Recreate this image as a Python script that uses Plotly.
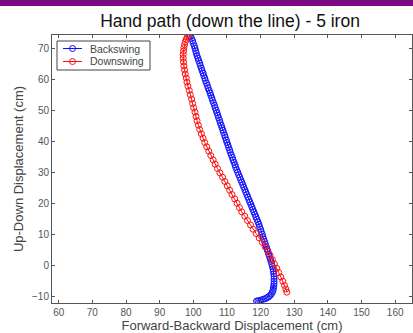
import plotly.graph_objects as go

# Backswing (blue) hand path
back_x = [118.8, 119.2, 119.7, 120.2, 120.8, 121.4, 121.9, 122.4, 122.8, 123.2, 123.5, 123.7,
          123.8, 123.9, 124.0, 124.0, 124.0, 124.0, 123.9, 123.8, 123.7, 123.5, 123.3,
          123.1, 122.9, 122.6, 122.4, 122.2, 121.9, 121.7, 121.4, 121.2, 120.9, 120.7, 120.5,
          120.2, 120.0, 119.7, 119.5, 119.2, 118.9, 118.6, 118.3, 118.0, 117.7, 117.4, 117.1,
          116.8, 116.5, 116.2, 115.9, 115.6, 115.3, 115.0, 114.7, 114.4, 114.1, 113.8, 113.5,
          113.2, 112.9, 112.6, 112.4, 112.1, 111.8, 111.6, 111.3, 111.0, 110.8, 110.5, 110.3,
          110.0, 109.8, 109.5, 109.3, 109.0, 108.8, 108.5, 108.3, 108.0, 107.8, 107.5, 107.3,
          107.0, 106.8, 106.5, 106.3, 106.0, 105.7, 105.5, 105.2, 105.0, 104.7, 104.4, 104.2,
          103.9, 103.6, 103.4, 103.1, 102.9, 102.6, 102.4, 102.1, 101.9, 101.6, 101.4, 101.1,
          100.9, 100.7, 100.5, 100.3, 100.0, 99.8, 99.5, 99.1, 98.8]
back_y = [-11.4, -11.3, -11.2, -11.0, -10.8, -10.6, -10.3, -10.0, -9.6, -9.1, -8.5, -7.9,
          -7.2, -6.5, -5.8, -5.0, -4.2, -3.4, -2.6, -1.8, -1.0, -0.2, 0.6,
          1.4, 2.2, 3.0, 3.8, 4.6, 5.4, 6.2, 7.0, 7.8, 8.6, 9.4, 10.2,
          11.0, 11.8, 12.6, 13.4, 14.2, 15.0, 15.8, 16.6, 17.4, 18.2, 19.0, 19.8,
          20.6, 21.4, 22.2, 23.0, 23.8, 24.6, 25.4, 26.2, 27.0, 27.8, 28.6, 29.4,
          30.2, 31.0, 31.8, 32.6, 33.4, 34.2, 35.0, 35.8, 36.6, 37.4, 38.2, 39.0,
          39.8, 40.6, 41.4, 42.2, 43.0, 43.8, 44.6, 45.4, 46.2, 47.0, 47.8, 48.6,
          49.4, 50.2, 51.0, 51.8, 52.6, 53.4, 54.2, 55.0, 55.8, 56.6, 57.4, 58.2,
          59.0, 59.8, 60.6, 61.4, 62.2, 63.0, 63.8, 64.6, 65.4, 66.2, 67.0, 67.8,
          68.6, 69.4, 70.2, 71.0, 71.8, 72.6, 73.4, 74.0, 74.3]

# Downswing (red) hand path
down_x = [98.6, 98.2, 97.9, 97.6, 97.4, 97.2, 97.1, 97.0, 97.0, 97.1, 97.2, 97.4, 97.6, 97.9,
          98.1, 98.4, 98.8, 99.1, 99.5, 99.8, 100.1, 100.5, 100.8, 101.1, 101.5, 101.9,
          102.4, 102.9, 103.4, 104.0, 104.6, 105.2, 105.9, 106.5, 107.2, 107.9, 108.7,
          109.4, 110.1, 110.8, 111.5, 112.3, 113.0, 113.7, 114.4, 115.3, 116.1, 117.0,
          117.8, 118.7, 119.6, 120.5, 121.3, 122.1, 122.8, 123.5, 124.1, 124.8, 125.4,
          126.0, 126.6, 127.1, 127.5, 127.8]
down_y = [74.3, 73.8, 73.1, 72.3, 71.4, 70.4, 69.3, 68.2, 67.0, 65.8, 64.5, 63.2, 61.9, 60.6,
          59.3, 58.0, 56.6, 55.2, 53.8, 52.4, 51.0, 49.6, 48.2, 46.8, 45.4, 44.0,
          42.6, 41.2, 39.8, 38.4, 37.0, 35.6, 34.2, 32.8, 31.4, 30.0, 28.6,
          27.2, 25.8, 24.4, 23.0, 21.6, 20.2, 18.8, 17.4, 16.0, 14.6, 13.2,
          11.8, 10.4, 9.0, 7.6, 6.2, 4.8, 3.4, 2.0, 0.6, -0.8, -2.2,
          -3.6, -5.0, -6.3, -7.5, -8.5]

series_names = ["Backswing", "Downswing"]
series_colors = ["#1010ff", "#ff1010"]
x_ticks = [60, 70, 80, 90, 100, 110, 120, 130, 140, 150, 160]
y_ticks = [-10, 0, 10, 20, 30, 40, 50, 60, 70]

FONT = "Liberation Sans, Arial, sans-serif"
W, H = 413, 333
ML, MR, MT, MB = 52, 1, 35, 30
PW, PH = W - ML - MR, H - MT - MB


def px(xp):
    return (xp - ML) / PW


def py(yp):
    return (H - MB - yp) / PH


fig = go.Figure()
for name, color, xs, ys in zip(series_names, series_colors, [back_x, down_x], [back_y, down_y]):
    fig.add_trace(go.Scatter(
        x=xs, y=ys, mode="lines+markers", name=name,
        line=dict(color=color, width=1),
        marker=dict(symbol="circle-open", size=6, color=color, line=dict(width=1)),
        showlegend=False,
    ))

axis_common = dict(
    showgrid=False, zeroline=False, showline=True, linecolor="#555555", linewidth=1,
    mirror="ticks", ticks="inside", ticklen=3, tickcolor="#555555",
    tickfont=dict(family=FONT, size=10, color="#555555"),
)

fig.update_layout(
    width=W, height=H,
    margin=dict(l=ML, r=MR, t=MT, b=MB),
    paper_bgcolor="white", plot_bgcolor="white",
    font=dict(family=FONT),
    title=dict(text="Hand path (down the line) - 5 iron", x=0.557, xanchor="center",
               y=1 - 21 / H, yanchor="middle",
               font=dict(family=FONT, size=17.5, color="#111111")),
    xaxis=dict(range=[58, 165], tickvals=x_ticks,
               title=dict(text="Forward-Backward Displacement (cm)", standoff=0,
                          font=dict(family=FONT, size=13, color="#444444")),
               **axis_common),
    yaxis=dict(range=[-12, 74.5], tickvals=y_ticks,
               title=dict(text="Up-Down Displacement (cm)", standoff=5,
                          font=dict(family=FONT, size=13, color="#444444")),
               **axis_common),
    showlegend=False,
)

# purple banner at the top
fig.add_shape(type="rect", xref="paper", yref="paper",
              x0=px(0), x1=px(W), y0=py(6), y1=py(0),
              fillcolor="#7b0a82", line=dict(width=0), layer="above")

# MATLAB-style legend box
fig.add_shape(type="rect", xref="paper", yref="paper",
              x0=px(57), x1=px(150), y0=py(70), y1=py(41),
              fillcolor="white", line=dict(color="#444444", width=1), layer="above")
for i, (name, color) in enumerate(zip(series_names, series_colors)):
    yy = 48.5 + i * 13
    fig.add_shape(type="line", xref="paper", yref="paper",
                  x0=px(63), x1=px(82), y0=py(yy), y1=py(yy),
                  line=dict(color=color, width=1), layer="above")
    fig.add_shape(type="circle", xref="paper", yref="paper",
                  xsizemode="pixel", ysizemode="pixel",
                  xanchor=px(72.5), yanchor=py(yy),
                  x0=-3, x1=3, y0=-3, y1=3,
                  line=dict(color=color, width=1), layer="above")
    fig.add_annotation(text=name, xref="paper", yref="paper",
                       x=px(88), y=py(yy), xanchor="left", yanchor="middle",
                       showarrow=False,
                       font=dict(family=FONT, size=10.5, color="#444444"))

fig.write_html("out.html", config={"displayModeBar": False},
               post_script="document.body.style.margin='0';document.body.style.overflow='hidden';")
